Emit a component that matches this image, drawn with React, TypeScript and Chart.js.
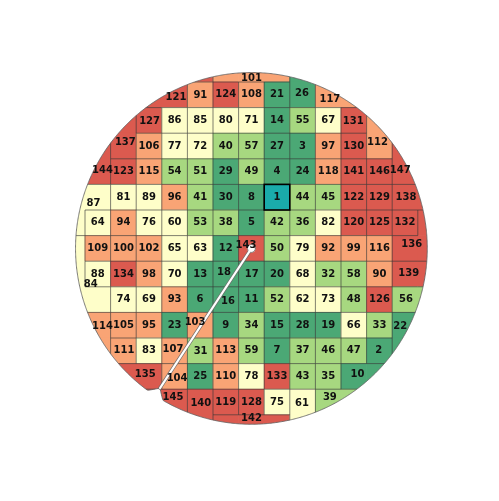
import React, { useEffect, useRef } from "react";
import { Chart, registerables } from "chart.js";

Chart.register(...registerables);

// Die map: each entry is the rank id of the die region (0 = outside the wafer).
// Cells that share an id belong to the same (merged edge) region.
const DIE_ROWS: number[][] = [
  [0, 0, 0, 0, 121, 121, 101, 101, 101, 26, 117, 0, 0, 0, 0],
  [0, 0, 0, 121, 121, 91, 124, 108, 21, 26, 117, 117, 0, 0, 0],
  [0, 0, 137, 127, 86, 85, 80, 71, 14, 55, 67, 131, 112, 0, 0],
  [0, 144, 137, 106, 77, 72, 40, 57, 27, 3, 97, 130, 112, 147, 0],
  [0, 144, 123, 115, 54, 51, 29, 49, 4, 24, 118, 141, 146, 147, 147],
  [87, 87, 81, 89, 96, 41, 30, 8, 1, 44, 45, 122, 129, 138, 138],
  [87, 64, 94, 76, 60, 53, 38, 5, 42, 36, 82, 120, 125, 132, 136],
  [84, 109, 100, 102, 65, 63, 12, 143, 50, 79, 92, 99, 116, 136, 136],
  [84, 88, 134, 98, 70, 13, 18, 17, 20, 68, 32, 58, 90, 139, 139],
  [84, 84, 74, 69, 93, 6, 16, 11, 52, 62, 73, 48, 126, 56, 56],
  [0, 114, 105, 95, 23, 103, 9, 34, 15, 28, 19, 66, 33, 22, 0],
  [0, 114, 111, 83, 107, 31, 113, 59, 7, 37, 46, 47, 2, 22, 0],
  [0, 0, 135, 135, 104, 25, 110, 78, 133, 43, 35, 10, 10, 0, 0],
  [0, 0, 0, 145, 145, 140, 119, 128, 75, 61, 39, 39, 0, 0, 0],
  [0, 0, 0, 0, 0, 140, 142, 142, 142, 61, 0, 0, 0, 0, 0],
];

const GRID_SIZE = 15;
const WAFER_CENTER = { x: 7.5, y: 7.5 };
const WAFER_RADIUS = 6.87;
const NOTCH_ANGLE_DEG = 123.2;
const NOTCH_DEPTH = 0.35;
const NOTCH_HALF_WIDTH_DEG = 3;

const BIN_EDGES = [30.4, 59.8, 89.2, 118.6];
const BIN_COLORS = ["#4ba875", "#a7d880", "#fefec9", "#f9a475", "#db5a4f"];
const HIGHLIGHT_ID = 1;
const HIGHLIGHT_COLOR = "#1aabab";

function binColor(id: number): string {
  if (id === HIGHLIGHT_ID) return HIGHLIGHT_COLOR;
  let k = 0;
  while (k < BIN_EDGES.length && id > BIN_EDGES[k]) k++;
  return BIN_COLORS[k];
}

function notchTip() {
  const a = (NOTCH_ANGLE_DEG * Math.PI) / 180;
  const r = WAFER_RADIUS - NOTCH_DEPTH;
  return { x: WAFER_CENTER.x + r * Math.cos(a), y: WAFER_CENTER.y + r * Math.sin(a) };
}

function outlinePoints() {
  const pts: { x: number; y: number }[] = [];
  for (let k = 0; k < 900; k++) {
    const d = NOTCH_ANGLE_DEG + k * 0.4;
    const diff = Math.abs((((d - NOTCH_ANGLE_DEG) % 360) + 540) % 360 - 180);
    let r = WAFER_RADIUS;
    if (diff < NOTCH_HALF_WIDTH_DEG) r -= NOTCH_DEPTH * (1 - diff / NOTCH_HALF_WIDTH_DEG);
    const a = (d * Math.PI) / 180;
    pts.push({ x: WAFER_CENTER.x + r * Math.cos(a), y: WAFER_CENTER.y + r * Math.sin(a) });
  }
  return pts;
}

function segmentHitsCell(c: number, r: number) {
  const tip = notchTip();
  for (let i = 0; i <= 600; i++) {
    const t = i / 600;
    const x = WAFER_CENTER.x + (tip.x - WAFER_CENTER.x) * t;
    const y = WAFER_CENTER.y + (tip.y - WAFER_CENTER.y) * t;
    if (x > c && x < c + 1 && y > r && y < r + 1) return true;
  }
  return false;
}

// label anchor of each region: centroid of its (larger) piece inside the wafer
function regionLabels() {
  const tip = notchTip();
  const dx = tip.x - WAFER_CENTER.x;
  const dy = tip.y - WAFER_CENTER.y;
  const N = 20;
  const acc = new Map<number, { sx: number[]; sy: number[]; n: number[]; split: boolean }>();
  for (let r = 0; r < GRID_SIZE; r++) {
    for (let c = 0; c < GRID_SIZE; c++) {
      const id = DIE_ROWS[r][c];
      if (!id) continue;
      if (!acc.has(id)) acc.set(id, { sx: [0, 0], sy: [0, 0], n: [0, 0], split: false });
      const a = acc.get(id)!;
      if (segmentHitsCell(c, r)) a.split = true;
      for (let i = 0; i < N; i++) {
        for (let j = 0; j < N; j++) {
          const x = c + (i + 0.5) / N;
          const y = r + (j + 0.5) / N;
          const ddx = x - WAFER_CENTER.x;
          const ddy = y - WAFER_CENTER.y;
          if (ddx * ddx + ddy * ddy > WAFER_RADIUS * WAFER_RADIUS) continue;
          const cross = dx * ddy - dy * ddx;
          const s = cross >= 0 ? 0 : 1;
          a.sx[s] += x;
          a.sy[s] += y;
          a.n[s] += 1;
        }
      }
    }
  }
  const out: { id: number; x: number; y: number }[] = [];
  acc.forEach((a, id) => {
    let x: number, y: number;
    if (a.split) {
      const s = a.n[0] >= a.n[1] ? 0 : 1;
      x = a.sx[s] / a.n[s];
      y = a.sy[s] / a.n[s];
    } else {
      const n = a.n[0] + a.n[1];
      x = (a.sx[0] + a.sx[1]) / n;
      y = (a.sy[0] + a.sy[1]) / n;
    }
    out.push({ id, x, y });
  });
  return out;
}

const waferPlugin = {
  id: "waferMap",
  beforeDatasetsDraw(chart: any) {
    const ctx: CanvasRenderingContext2D = chart.ctx;
    const xs = chart.scales.x;
    const ys = chart.scales.y;
    const px = (v: number) => xs.getPixelForValue(v);
    const py = (v: number) => ys.getPixelForValue(v);
    const outline = outlinePoints();

    const tracePath = () => {
      ctx.beginPath();
      outline.forEach((p, i) => {
        if (i === 0) ctx.moveTo(px(p.x), py(p.y));
        else ctx.lineTo(px(p.x), py(p.y));
      });
      ctx.closePath();
    };

    ctx.save();
    tracePath();
    ctx.clip();

    // cell fills
    for (let r = 0; r < GRID_SIZE; r++) {
      for (let c = 0; c < GRID_SIZE; c++) {
        const id = DIE_ROWS[r][c];
        if (!id) continue;
        ctx.fillStyle = binColor(id);
        const x0 = px(c), x1 = px(c + 1), y0 = py(r), y1 = py(r + 1);
        ctx.fillRect(x0 - 0.3, y0 - 0.3, x1 - x0 + 0.6, y1 - y0 + 0.6);
      }
    }

    // region borders
    const idAt = (r: number, c: number) =>
      r < 0 || c < 0 || r >= GRID_SIZE || c >= GRID_SIZE ? 0 : DIE_ROWS[r][c];
    ctx.strokeStyle = "rgba(55,55,55,0.8)";
    ctx.lineWidth = 0.8;
    ctx.beginPath();
    for (let r = 0; r < GRID_SIZE; r++) {
      for (let c = 0; c < GRID_SIZE; c++) {
        const id = idAt(r, c);
        const right = idAt(r, c + 1);
        const below = idAt(r + 1, c);
        if ((id || right) && id !== right) {
          ctx.moveTo(px(c + 1), py(r));
          ctx.lineTo(px(c + 1), py(r + 1));
        }
        if ((id || below) && id !== below) {
          ctx.moveTo(px(c), py(r + 1));
          ctx.lineTo(px(c + 1), py(r + 1));
        }
      }
    }
    ctx.stroke();
    ctx.restore();

    // wafer outline
    ctx.save();
    tracePath();
    ctx.strokeStyle = "rgba(100,100,100,0.85)";
    ctx.lineWidth = 1;
    ctx.stroke();
    ctx.restore();

    // highlighted die
    ctx.save();
    ctx.strokeStyle = "#000";
    ctx.lineWidth = 1.6;
    for (let r = 0; r < GRID_SIZE; r++) {
      for (let c = 0; c < GRID_SIZE; c++) {
        if (DIE_ROWS[r][c] === HIGHLIGHT_ID) {
          ctx.strokeRect(px(c), py(r), px(c + 1) - px(c), py(r + 1) - py(r));
        }
      }
    }
    ctx.restore();

    // orientation line: centre to notch
    const tip = notchTip();
    const sx = px(WAFER_CENTER.x), sy = py(WAFER_CENTER.y);
    const ex = px(tip.x), ey = py(tip.y);
    ctx.save();
    ctx.lineCap = "round";
    ctx.strokeStyle = "rgba(110,110,110,0.9)";
    ctx.lineWidth = 3.6;
    ctx.beginPath();
    ctx.moveTo(sx, sy);
    ctx.lineTo(ex, ey);
    ctx.stroke();
    ctx.beginPath();
    ctx.arc(sx, sy, 4, 0, Math.PI * 2);
    ctx.fillStyle = "#fff";
    ctx.fill();
    ctx.lineWidth = 0.9;
    ctx.stroke();
    ctx.strokeStyle = "#fff";
    ctx.lineWidth = 2.1;
    ctx.beginPath();
    ctx.moveTo(sx, sy);
    ctx.lineTo(ex, ey);
    ctx.stroke();
    ctx.restore();
  },
  afterDatasetsDraw(chart: any) {
    const ctx: CanvasRenderingContext2D = chart.ctx;
    const meta = chart.getDatasetMeta(0);
    const data = chart.data.datasets[0].data as any[];
    ctx.save();
    ctx.font = 'bold 10px "DejaVu Sans", sans-serif';
    ctx.fillStyle = "#111";
    ctx.textAlign = "center";
    ctx.textBaseline = "middle";
    meta.data.forEach((el: any, i: number) => {
      ctx.fillText(String(data[i].id), el.x, el.y);
    });
    ctx.restore();
  },
};

export default function App() {
  const canvasRef = useRef<HTMLCanvasElement | null>(null);

  useEffect(() => {
    if (!canvasRef.current) return;
    const labels = regionLabels();
    const chart = new Chart(canvasRef.current, {
      type: "scatter",
      data: {
        datasets: [
          {
            label: "dies",
            data: labels as any,
            pointRadius: 0,
            pointHoverRadius: 0,
            showLine: false,
          },
        ],
      },
      options: {
        animation: false,
        responsive: true,
        maintainAspectRatio: false,
        events: [],
        layout: { padding: { left: 59.4, top: 56.4, right: 55.6, bottom: 60.6 } },
        plugins: { legend: { display: false }, tooltip: { enabled: false }, title: { display: false } },
        scales: {
          x: { type: "linear", min: 0, max: GRID_SIZE, display: false },
          y: { type: "linear", min: 0, max: GRID_SIZE, reverse: true, display: false },
        },
      },
      plugins: [waferPlugin],
    });
    return () => chart.destroy();
  }, []);

  return (
    <div style={{ position: "absolute", left: 0, top: 0, width: 499, height: 501, background: "#fff" }}>
      <canvas ref={canvasRef} />
    </div>
  );
}
